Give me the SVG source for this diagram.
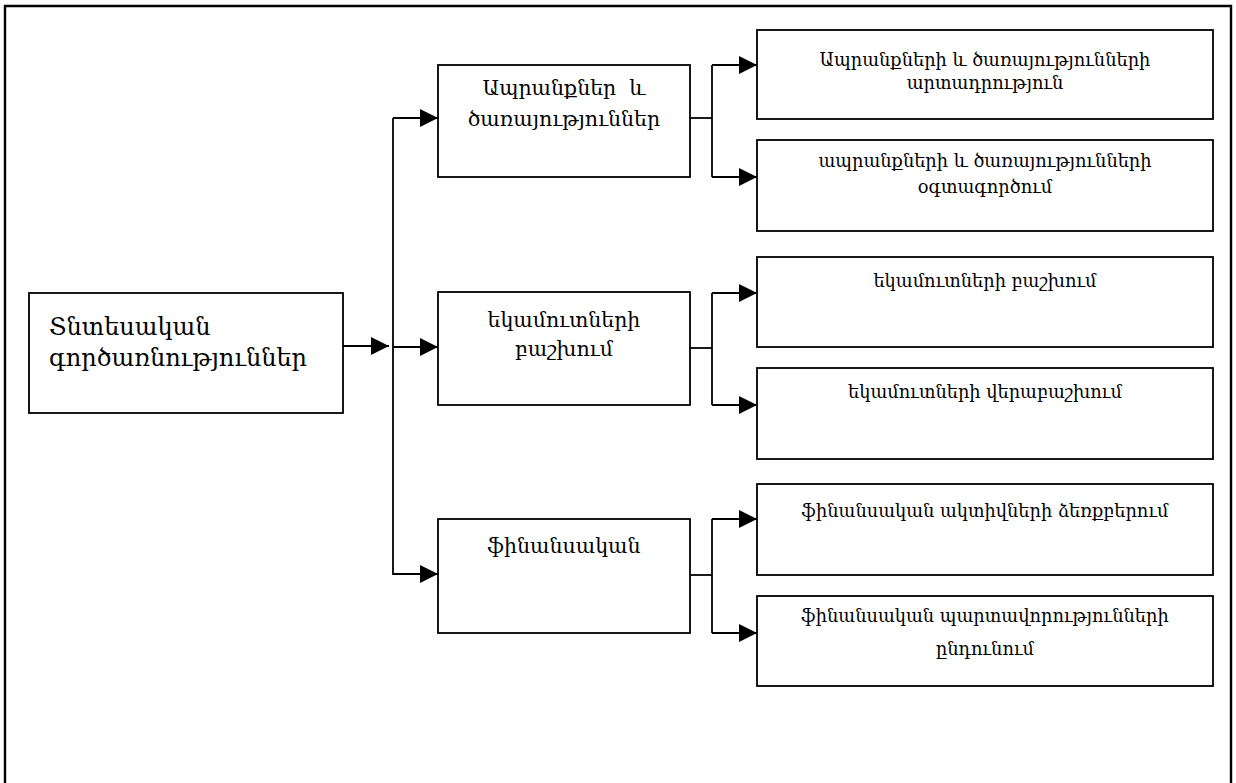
<svg xmlns="http://www.w3.org/2000/svg" width="1236" height="783" viewBox="0 0 1236 783">
  <style>
    .box { fill: #fff; stroke: #000; stroke-width: 1.8; }
    .link { fill: none; stroke: #000; stroke-width: 1.8; }
    .frame { fill: none; stroke: #000; stroke-width: 2.4; }
    text { font-family: "DejaVu Serif", "Liberation Serif", serif; fill: #000; text-anchor: middle; }
    .t-root { font-size: 24px; text-anchor: start; }
    .t-mid { font-size: 20.5px; }
    .t-leaf { font-size: 17.8px; }
  </style>
  <defs>
    <marker id="arrow" viewBox="0 0 18 18" refX="18" refY="9" markerWidth="18" markerHeight="18" markerUnits="userSpaceOnUse" orient="auto">
      <path d="M0,0 L18,9 L0,18 Z" fill="#000"/>
    </marker>
  </defs>

  <rect width="1236" height="783" fill="#fff"/>
  <!-- page frame, open at the bottom -->
  <path class="frame" d="M5,783 V6 H1231 V783"/>

  <g id="connectors">
    <!-- root to trunk -->
    <path class="link" d="M343,346 H389" marker-end="url(#arrow)"/>
    <path class="link" d="M393,118 V575"/>
    <path class="link" d="M393,118 H438" marker-end="url(#arrow)"/>
    <path class="link" d="M393,347 H438" marker-end="url(#arrow)"/>
    <path class="link" d="M393,574 H438" marker-end="url(#arrow)"/>
    <!-- goods and services branch -->
    <path class="link" d="M690,118 H712"/>
    <path class="link" d="M712,65 V177"/>
    <path class="link" d="M712,65 H757" marker-end="url(#arrow)"/>
    <path class="link" d="M712,177 H757" marker-end="url(#arrow)"/>
    <!-- income branch -->
    <path class="link" d="M690,348 H712"/>
    <path class="link" d="M712,293 V405"/>
    <path class="link" d="M712,293 H757" marker-end="url(#arrow)"/>
    <path class="link" d="M712,405 H757" marker-end="url(#arrow)"/>
    <!-- financial branch -->
    <path class="link" d="M690,575 H712"/>
    <path class="link" d="M712,519 V633"/>
    <path class="link" d="M712,519 H757" marker-end="url(#arrow)"/>
    <path class="link" d="M712,633 H757" marker-end="url(#arrow)"/>
  </g>

  <g id="root">
    <rect class="box" x="29" y="293" width="314" height="120"/>
    <text class="t-root" x="49" y="335">Տնտեսական</text>
    <text class="t-root" x="49" y="366">գործառնություններ</text>
  </g>

  <g id="goods">
    <rect class="box" x="438" y="65" width="252" height="112"/>
    <text class="t-mid" x="564" y="95">Ապրանքներ&#160; և</text>
    <text class="t-mid" x="564" y="126">ծառայություններ</text>
  </g>
  <g id="income">
    <rect class="box" x="438" y="292" width="252" height="113"/>
    <text class="t-mid" x="564" y="327">եկամուտների</text>
    <text class="t-mid" x="564" y="356">բաշխում</text>
  </g>
  <g id="financial">
    <rect class="box" x="438" y="519" width="252" height="114"/>
    <text class="t-mid" x="564" y="553">ֆինանսական</text>
  </g>

  <g id="production">
    <rect class="box" x="757" y="30" width="456" height="89"/>
    <text class="t-leaf" x="985" y="66">Ապրանքների և ծառայությունների</text>
    <text class="t-leaf" x="985" y="89">արտադրություն</text>
  </g>
  <g id="usage">
    <rect class="box" x="757" y="140" width="456" height="91"/>
    <text class="t-leaf" x="985" y="167">ապրանքների և ծառայությունների</text>
    <text class="t-leaf" x="985" y="193">օգտագործում</text>
  </g>
  <g id="distribution">
    <rect class="box" x="757" y="257" width="456" height="90"/>
    <text class="t-leaf" x="985" y="287">եկամուտների բաշխում</text>
  </g>
  <g id="redistribution">
    <rect class="box" x="757" y="368" width="456" height="91"/>
    <text class="t-leaf" x="985" y="398">եկամուտների վերաբաշխում</text>
  </g>
  <g id="assets">
    <rect class="box" x="757" y="484" width="456" height="91"/>
    <text class="t-leaf" x="985" y="517">ֆինանսական ակտիվների ձեռքբերում</text>
  </g>
  <g id="liabilities">
    <rect class="box" x="757" y="596" width="456" height="90"/>
    <text class="t-leaf" x="985" y="622">ֆինանսական պարտավորությունների</text>
    <text class="t-leaf" x="985" y="655">ընդունում</text>
  </g>
</svg>
